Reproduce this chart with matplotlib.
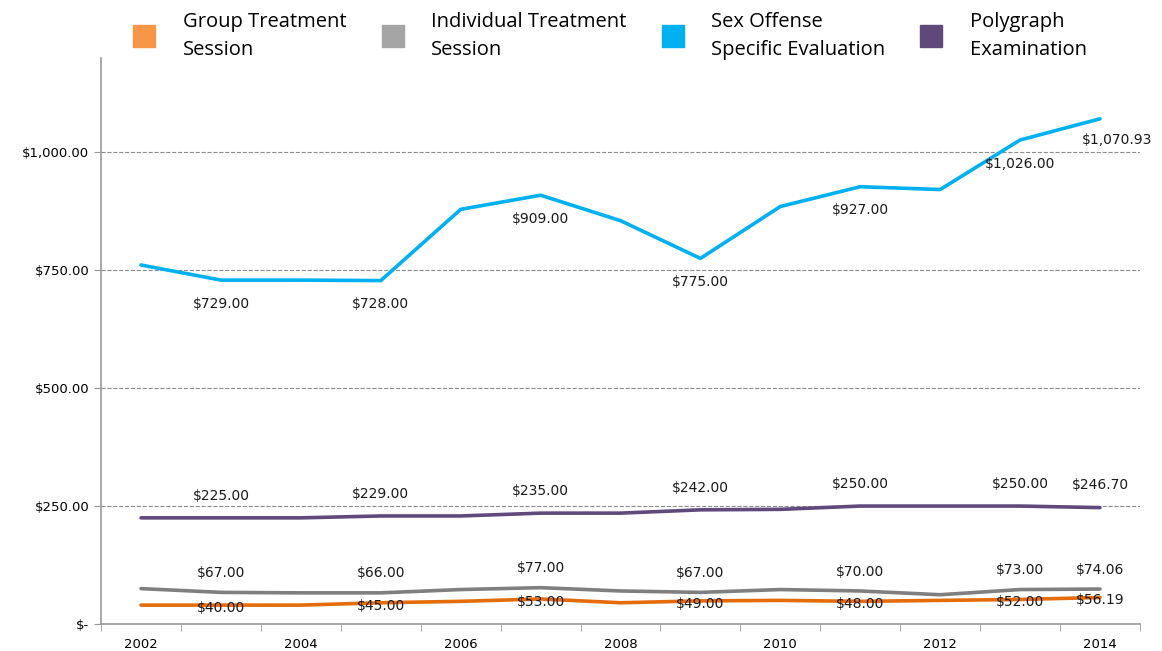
import numpy as np
import matplotlib
matplotlib.use("Agg")
import matplotlib.pyplot as plt
from matplotlib.lines import Line2D

# data
years = [2002, 2003, 2004, 2005, 2006, 2007, 2008, 2009, 2010, 2011, 2012, 2013, 2014]
group = [40, 40, 40, 45, 48, 53, 45, 49, 50, 48, 50, 52, 56.19]
individual = [75, 67, 66, 66, 73, 77, 70, 67, 73, 70, 62, 73, 74.06]
evaluation = [761, 729, 729, 728, 879, 909, 855, 775, 885, 927, 921, 1026, 1070.93]
polygraph = [225, 225, 225, 229, 229, 235, 235, 242, 243, 250, 250, 250, 246.70]

names = ["Group Treatment\nSession", "Individual Treatment\nSession",
         "Sex Offense\nSpecific Evaluation", "Polygraph\nExamination"]
line_colors = ["#E46C0A", "#7F7F7F", "#00B0F0", "#604A7B"]
legend_colors = ["#F79646", "#A5A5A5", "#00B0F0", "#5F497A"]

# which points get a label
labelled = [1, 3, 5, 7, 9, 11, 12]

def money(v):
    return "${:,.2f}".format(v)

fig = plt.figure(figsize=(11.62, 6.51), dpi=100)
ax = fig.add_axes([0.087, 0.0415, 0.894, 0.8695])

x = np.arange(len(years))
series = [group, individual, evaluation, polygraph]
for vals, c in zip(series, line_colors):
    ax.plot(x, vals, color=c, lw=2.6, solid_capstyle="round", solid_joinstyle="round")

lab_font = dict(fontsize=10, family="DejaVu Sans", color="#1a1a1a")
for i in labelled:
    ax.annotate(money(group[i]), (x[i], group[i]), xytext=(0, -2), textcoords="offset points",
                ha="center", va="center", **lab_font)
    ax.annotate(money(individual[i]), (x[i], individual[i]), xytext=(0, 14), textcoords="offset points",
                ha="center", va="center", **lab_font)
    ax.annotate(money(polygraph[i]), (x[i], polygraph[i]), xytext=(0, 16), textcoords="offset points",
                ha="center", va="center", **lab_font)
    if i == 12:
        ax.annotate(money(evaluation[i]), (x[i], evaluation[i]), xytext=(12, -15), textcoords="offset points",
                    ha="center", va="center", **lab_font)
    else:
        ax.annotate(money(evaluation[i]), (x[i], evaluation[i]), xytext=(0, -17), textcoords="offset points",
                    ha="center", va="center", **lab_font)

ax.set_xlim(-0.5, len(years) - 0.5)
ax.set_ylim(0, 1200)
ax.set_xticks(x[::2])
ax.set_xticklabels([str(y) for y in years[::2]], fontsize=9.5, family="DejaVu Sans")
ax.set_xticks(np.arange(-0.5, len(years)), minor=True)
ax.tick_params(axis="x", which="major", length=0, pad=10)
ax.tick_params(axis="x", which="minor", length=5, color="#999999")

yt = [0, 250, 500, 750, 1000]
ax.set_yticks(yt)
ax.set_yticklabels(["$-" if v == 0 else money(v) for v in yt], fontsize=9.5, family="DejaVu Sans")
ax.tick_params(axis="y", length=5, color="#999999")
ax.yaxis.grid(True, linestyle="--", color="#8c8c8c", lw=0.8)
ax.set_axisbelow(True)

for s in ["top", "right"]:
    ax.spines[s].set_visible(False)
for s in ["left", "bottom"]:
    ax.spines[s].set_color("#999999")
    ax.spines[s].set_linewidth(1.2)

handles = [Line2D([], [], marker="s", ls="none", color=c, markersize=16) for c in legend_colors]
leg = fig.legend(handles, names, loc="upper center", bbox_to_anchor=(0.521, 1.01), ncol=4, frameon=False,
                 prop={"family": "Open Sans", "size": 14.5}, columnspacing=1.3, handletextpad=0.9,
                 labelspacing=0.2)
for t in leg.get_texts():
    t.set_linespacing(1.55)

fig.savefig("out.png", dpi=100)
